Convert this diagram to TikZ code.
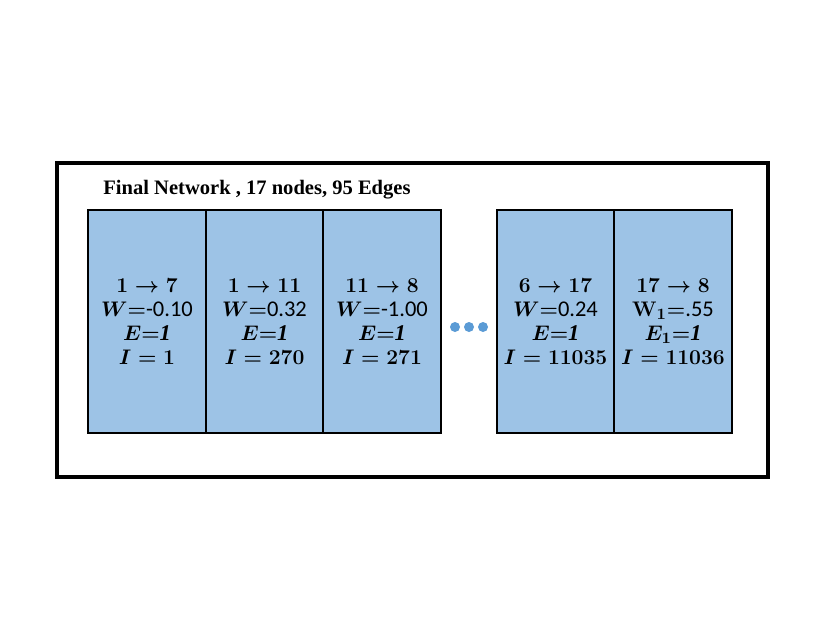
\documentclass[tikz,border=0pt]{standalone}
\usepackage{amsmath, amssymb}
\usepackage{fontspec}
\setmainfont{Liberation Serif}
\newfontfamily\numfont{Carlito}
\usetikzlibrary{positioning}

\definecolor{cellblue}{RGB}{157,195,230}
\definecolor{dotblue}{RGB}{91,155,213}

\begin{document}
\begin{tikzpicture}[x=0.02cm,y=-0.02cm,
    cell/.style={draw, line width=1.2pt, fill=cellblue, inner sep=0pt,
      minimum width=2.35cm, minimum height=4.46cm, align=center,
      font=\fontsize{12.8}{13.66}\selectfont\boldmath}]
  \useasboundingbox (0,0) rectangle (830,642);
  \draw[line width=1.8pt] (57,163) rectangle (768,477);
  \node[anchor=base west, inner sep=0pt, font=\fontsize{11.7}{14}\selectfont\bfseries]
    (title) at (103,194) {Final Network , 17 nodes, 95 Edges};
  \foreach \p/\n/\a/\w/\i in {147/c1/{1\rightarrow 7}/{-0.10}/1,
      264.5/c2/{1\rightarrow 11}/{0.32}/270, 382/c3/{11\rightarrow 8}/{-1.00}/271,
      555.5/c4/{6\rightarrow 17}/{0.24}/11035}
    {\node[cell] (\n) at (\p,321.5)
      {$\a$\\$W{=}${\numfont\w}\\$E{=}\mathit{1}$\\$I=\i$};}
  \node[cell] (c5) at (673,321.5)
    {$17\rightarrow 8$\\$\mathbf{W}_{\mathbf{1}}{=}${\numfont .55}\\
     $E_1{=}\mathit{1}$\\$I=11036$};
  \foreach \x in {455,469,483}
    {\fill[dotblue] (\x,327) circle (0.1cm);}
\end{tikzpicture}
\end{document}
